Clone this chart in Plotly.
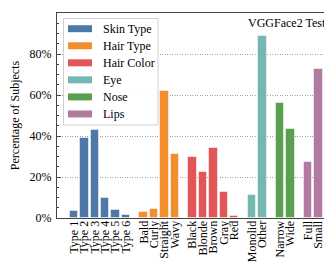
import plotly.graph_objects as go

groups = ["Skin Type", "Hair Type", "Hair Color", "Eye", "Nose", "Lips"]
categories = [
    ["Type 1", "Type 2", "Type 3", "Type 4", "Type 5", "Type 6"],
    ["Bald", "Curly", "Straight", "Wavy"],
    ["Black", "Blonde", "Brown", "Gray", "Red"],
    ["Monolid", "Other"],
    ["Narrow", "Wide"],
    ["Full", "Small"],
]
values = [
    [3.3, 39.0, 42.7, 9.6, 3.7, 1.6],
    [2.8, 4.3, 61.8, 31.1],
    [29.9, 22.6, 34.1, 12.7, 0.8],
    [11.1, 88.6],
    [56.3, 43.6],
    [27.5, 72.5],
]
colors = ["#4e79a7", "#f28e2b", "#e15759", "#76b7b2", "#59a14f", "#b07aa1"]

GAP = 0.7
FONT = "Liberation Serif"
FS = 12

# plot area geometry (pixels) used to place the hand-drawn legend
W, H = 332, 262
L, R, T, B = 49, 9, 5, 52
PW, PH = W - L - R, H - T - B


def px(x):
    return (x - L) / PW


def py(y):
    return (H - B - y) / PH


fig = go.Figure()
tickvals, ticktext = [], []
idx = 0
for g, (name, cats, vals, col) in enumerate(zip(groups, categories, values, colors)):
    xs = [idx + i + g * GAP for i in range(len(cats))]
    idx += len(cats)
    tickvals += xs
    ticktext += cats
    fig.add_trace(go.Bar(
        x=xs, y=vals, name=name, width=0.82, showlegend=False,
        marker=dict(color=col, line=dict(color="rgba(255,255,255,0.5)", width=1)),
    ))

# legend box (matplotlib-style, wide swatches)
shapes = [dict(type="rect", xref="paper", yref="paper",
               x0=px(55.5), x1=px(150), y0=py(117), y1=py(10.5),
               fillcolor="rgba(255,255,255,0.9)", line=dict(color="#d0d0d0", width=1),
               layer="above")]
annotations = []
for k, (name, col) in enumerate(zip(groups, colors)):
    cy = 20.7 + k * 17.05
    shapes.append(dict(type="rect", xref="paper", yref="paper",
                       x0=px(60), x1=px(84), y0=py(cy + 3.5), y1=py(cy - 3.5),
                       fillcolor=col, line=dict(width=0), layer="above"))
    annotations.append(dict(text=name, xref="paper", yref="paper",
                            x=px(93), y=py(cy), xanchor="left", yanchor="middle",
                            showarrow=False, font=dict(family=FONT, size=FS)))

annotations.append(dict(text="VGGFace2 Test", xref="paper", yref="paper",
                        x=px(320), y=py(15), xanchor="right", yanchor="middle",
                        showarrow=False, font=dict(family=FONT, size=FS)))

fig.update_layout(
    width=W, height=H,
    margin=dict(l=L, r=R, t=T, b=B),
    plot_bgcolor="white", paper_bgcolor="white",
    font=dict(family=FONT, size=FS, color="black"),
    showlegend=False,
    bargap=0,
    shapes=shapes,
    annotations=annotations,
)
fig.update_xaxes(
    range=[-1.63, 24.7], tickvals=tickvals, ticktext=ticktext, tickangle=-90,
    showline=True, linecolor="#444444", linewidth=1, mirror=True,
    ticks="", showgrid=False, tickfont=dict(family=FONT, size=FS),
    ticklabelstandoff=-3,
)
fig.update_yaxes(
    range=[0, 100], tickvals=[0, 20, 40, 60, 80], ticktext=["0%", "20%", "40%", "60%", "80%"],
    showline=True, linecolor="#444444", linewidth=1, mirror="ticks",
    ticks="inside", ticklen=4, tickcolor="#444444",
    minor=dict(ticks="inside", dtick=5, ticklen=2, tickcolor="#444444", showgrid=False),
    showgrid=True, gridcolor="#a0a0a0", griddash="1px,1.5px", gridwidth=1,
    zeroline=False,
    title=dict(text="Percentage of Subjects", font=dict(family=FONT, size=FS), standoff=9),
    tickfont=dict(family=FONT, size=FS),
    ticklabelstandoff=2,
)

fig.write_html("out.html")
